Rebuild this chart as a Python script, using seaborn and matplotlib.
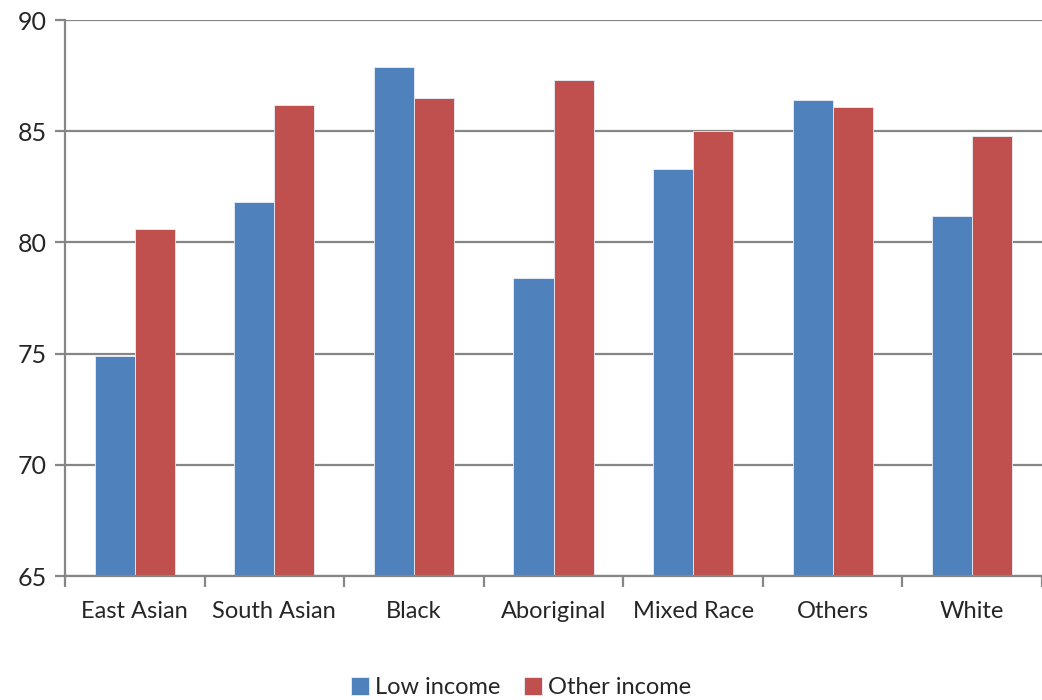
import matplotlib
matplotlib.use("Agg")
import matplotlib.pyplot as plt
import seaborn as sns
import pandas as pd
import numpy as np
from matplotlib.ticker import FixedLocator

categories = ["East Asian", "South Asian", "Black", "Aboriginal", "Mixed Race", "Others", "White"]
low_income = [74.9, 81.8, 87.9, 78.4, 83.3, 86.4, 81.2]
other_income = [80.6, 86.2, 86.5, 87.3, 85.0, 86.1, 84.8]
series_names = ["Low income", "Other income"]
yticks = [65, 70, 75, 80, 85, 90]

df = pd.DataFrame({
    "category": categories * 2,
    "value": low_income + other_income,
    "series": [series_names[0]] * len(categories) + [series_names[1]] * len(categories),
})

sns.set_style("white")
plt.rcParams['font.family'] = ['Lato', 'DejaVu Sans']

fig = plt.figure(figsize=(10.42, 7.0), dpi=100)
ax = fig.add_axes([0.0624, 0.177, 0.9376, 0.7944])

palette = {"Low income": "#4F81BD", "Other income": "#C0504D"}
sns.barplot(data=df, x="category", y="value", hue="series", order=categories,
            hue_order=series_names, palette=palette, width=0.575, ax=ax,
            edgecolor="#E8EEF7", linewidth=0.6, saturation=1, legend=True)

ax.set_ylim(65, 90)
ax.set_xlim(-0.5, len(categories) - 0.5)
ax.set_yticks(yticks)
ax.yaxis.grid(True, color="#868686", linewidth=1.6)
ax.set_axisbelow(True)
ax.set_xlabel("")
ax.set_ylabel("")

for s in ["top", "right"]:
    ax.spines[s].set_visible(False)
for s in ["left", "bottom"]:
    ax.spines[s].set_color("#868686")
    ax.spines[s].set_linewidth(1.6)

ax.tick_params(axis="y", which="major", length=7, width=1.6, color="#868686",
               labelsize=18, direction="out", left=True, pad=6)
ax.tick_params(axis="x", which="major", length=0, labelsize=17, pad=18)
ax.xaxis.set_minor_locator(FixedLocator(np.arange(-0.5, len(categories), 1.0)))
ax.tick_params(axis="x", which="minor", length=8, width=1.6, color="#868686",
               direction="out", bottom=True)

leg = ax.legend(loc="lower center", ncol=2,
                frameon=False, fontsize=17, handlelength=0.75, handleheight=0.75,
                handletextpad=0.25, columnspacing=1.0)
leg.set_bbox_to_anchor((0.5, -0.028), transform=fig.transFigure)

fig.savefig("out.png", dpi=100)
